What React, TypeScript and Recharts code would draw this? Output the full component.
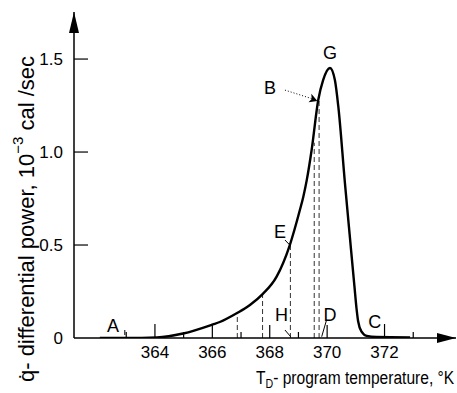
import React from 'react'
import {
  ComposedChart,
  Line,
  XAxis,
  YAxis,
  ReferenceLine,
  ReferenceDot,
  Label,
} from 'recharts'

// DSC trace
const tempK = [
  362.08, 363.0, 364.07, 364.98, 366.02, 366.26, 366.85, 367.31, 367.76, 368.24,
  368.7, 369.05, 369.17, 369.29, 369.46, 369.69, 369.86, 370.1, 370.27, 370.39,
  370.62, 370.8, 370.95, 371.03, 371.08, 371.2, 371.38, 371.72, 372.89,
]
const powerQ = [
  0, 0, 0.003, 0.024, 0.073, 0.086, 0.133, 0.177, 0.237, 0.33,
  0.5, 0.688, 0.76, 0.849, 1.011, 1.28, 1.387, 1.452, 1.387, 1.244,
  0.833, 0.53, 0.28, 0.15, 0.09, 0.034, 0.011, 0.005, 0.003,
]

// dashed verticals: x position and height where they meet the curve
const dashX = [366.87, 367.75, 368.72, 369.55, 369.72]
const dashTop = [0.133, 0.235, 0.5, 1.05, 1.28]

const xTicks = [363, 364, 365, 366, 367, 368, 369, 370, 372, 373]
const xLabelled = [364, 366, 368, 370, 372]
const yTicks = [0, 0.5, 1.0, 1.5]

// point letters
const letters = ['A', 'H', 'D', 'C', 'E', 'B', 'G']
const letterX = [362.54, 368.41, 370.1, 371.66, 368.36, 368.01, 370.1]
const letterY = [0.062, 0.124, 0.124, 0.086, 0.57, 1.344, 1.532]

// short leader strokes [x1, y1, x2, y2]
const leaders = [
  [368.53, 0.043, 368.73, 0.007],
  [369.98, 0.097, 369.81, 0.007],
  [368.53, 0.527, 368.73, 0.495],
  [362.95, 0.043, 362.95, 0.016],
]

const X_MIN = 361.18
const X_MAX = 374.49
const Y_MAX = 1.753
const FONT = "'Liberation Sans', Arial, sans-serif"

const curve = tempK.map((t, i) => ({ t, q: powerQ[i] }))

function XTick({ x, y, payload }: any) {
  const v = payload.value
  const major = xLabelled.includes(v)
  const len = v === 364 || v === 366 || v === 372 ? 14 : major ? 13 : 6
  return (
    <g>
      <line x1={x} y1={y} x2={x} y2={y - len} stroke="#000" strokeWidth={1.2} />
      {major && (
        <text x={x} y={y + 20} textAnchor="middle" fontSize={17} fontFamily={FONT} fill="#000">
          {v}
        </text>
      )}
    </g>
  )
}

function YTick({ x, y, payload }: any) {
  const v = payload.value
  const txt = v === 0 ? '0' : v.toFixed(1)
  return (
    <g>
      {v !== 0 && <line x1={x} y1={y} x2={x + 14} y2={y} stroke="#000" strokeWidth={1.2} />}
      <text x={x - 11} y={y + 6} textAnchor="end" fontSize={17} fontFamily={FONT} fill="#000">
        {txt}
      </text>
    </g>
  )
}

const YTitle = () => (
  <text
    transform="translate(26,219) rotate(-90)"
    textAnchor="middle"
    dominantBaseline="central"
    fontSize={22}
    fontFamily={FONT}
    fill="#000"
  >
    q̇- differential power, 10
    <tspan dy={-9} fontSize={15}>−3</tspan>
    <tspan dy={9}> cal /sec</tspan>
  </text>
)

const XTitle = () => (
  <text
    transform="translate(256,384) scale(0.82,1)"
    x={0}
    y={0}
    fontSize={19}
    fontFamily={FONT}
    fill="#000"
  >
    T<tspan dy={4} fontSize={13}>D</tspan>
    <tspan dy={-4}>- program temperature, °K</tspan>
  </text>
)

const letterShape = (s: string) => (p: any) => (
  <text
    x={p.cx}
    y={p.cy}
    textAnchor="middle"
    dominantBaseline="central"
    fontSize={18}
    fontFamily={FONT}
    fill="#000"
  >
    {s}
  </text>
)

export default function App() {
  return (
    <div style={{ position: 'absolute', left: 0, top: 0, width: 457, height: 393, background: '#fff' }}>
      <ComposedChart
        width={457}
        height={393}
        data={curve}
        margin={{ top: 12, right: 1, bottom: 0, left: 0 }}
      >
        <XAxis
          type="number"
          dataKey="t"
          domain={[X_MIN, X_MAX]}
          ticks={xTicks}
          interval={0}
          allowDataOverflow
          height={55}
          tickSize={0}
          tickMargin={0}
          tickLine={false}
          axisLine={{ stroke: '#000', strokeWidth: 1.5 }}
          tick={<XTick />}
        >
          <Label content={<XTitle />} />
        </XAxis>
        <YAxis
          type="number"
          domain={[0, Y_MAX]}
          ticks={yTicks}
          interval={0}
          allowDataOverflow
          width={74}
          tickSize={0}
          tickMargin={0}
          tickLine={false}
          axisLine={{ stroke: '#000', strokeWidth: 1.5 }}
          tick={<YTick />}
        >
          <Label content={<YTitle />} />
        </YAxis>

        {dashX.map((x, i) => (
          <ReferenceLine
            key={'d' + i}
            segment={[{ x, y: 0 }, { x, y: dashTop[i] }]}
            stroke="#333"
            strokeWidth={1}
            strokeDasharray="5 3"
          />
        ))}
        {leaders.map((l, i) => (
          <ReferenceLine
            key={'l' + i}
            segment={[{ x: l[0], y: l[1] }, { x: l[2], y: l[3] }]}
            stroke="#000"
            strokeWidth={1}
          />
        ))}
        {/* B: dotted pointer to the curve */}
        <ReferenceLine
          segment={[{ x: 368.53, y: 1.333 }, { x: 369.61, y: 1.28 }]}
          stroke="#000"
          strokeWidth={1}
          strokeDasharray="1 2"
        />
        <ReferenceDot
          x={369.66}
          y={1.275}
          r={0}
          shape={(p: any) => (
            <path
              d={`M${p.cx},${p.cy} l-8,-5 l2,5 l-2,4 z`}
              transform={`rotate(18 ${p.cx} ${p.cy})`}
              fill="#000"
            />
          )}
        />

        <Line
          dataKey="q"
          type="monotone"
          dot={false}
          stroke="#000"
          strokeWidth={2.4}
          isAnimationActive={false}
        />

        {letters.map((s, i) => (
          <ReferenceDot key={s} x={letterX[i]} y={letterY[i]} r={0} shape={letterShape(s)} />
        ))}

        {/* axis arrowheads */}
        <ReferenceDot
          x={X_MAX}
          y={0}
          r={0}
          shape={(p: any) => (
            <path d={`M${p.cx},${p.cy} l-19,-5 l0,10 z`} fill="#000" />
          )}
        />
        <ReferenceDot
          x={X_MIN}
          y={Y_MAX}
          r={0}
          shape={(p: any) => (
            <path d={`M${p.cx},${p.cy} l-5,21 l10,0 z`} fill="#000" />
          )}
        />
      </ComposedChart>
    </div>
  )
}
